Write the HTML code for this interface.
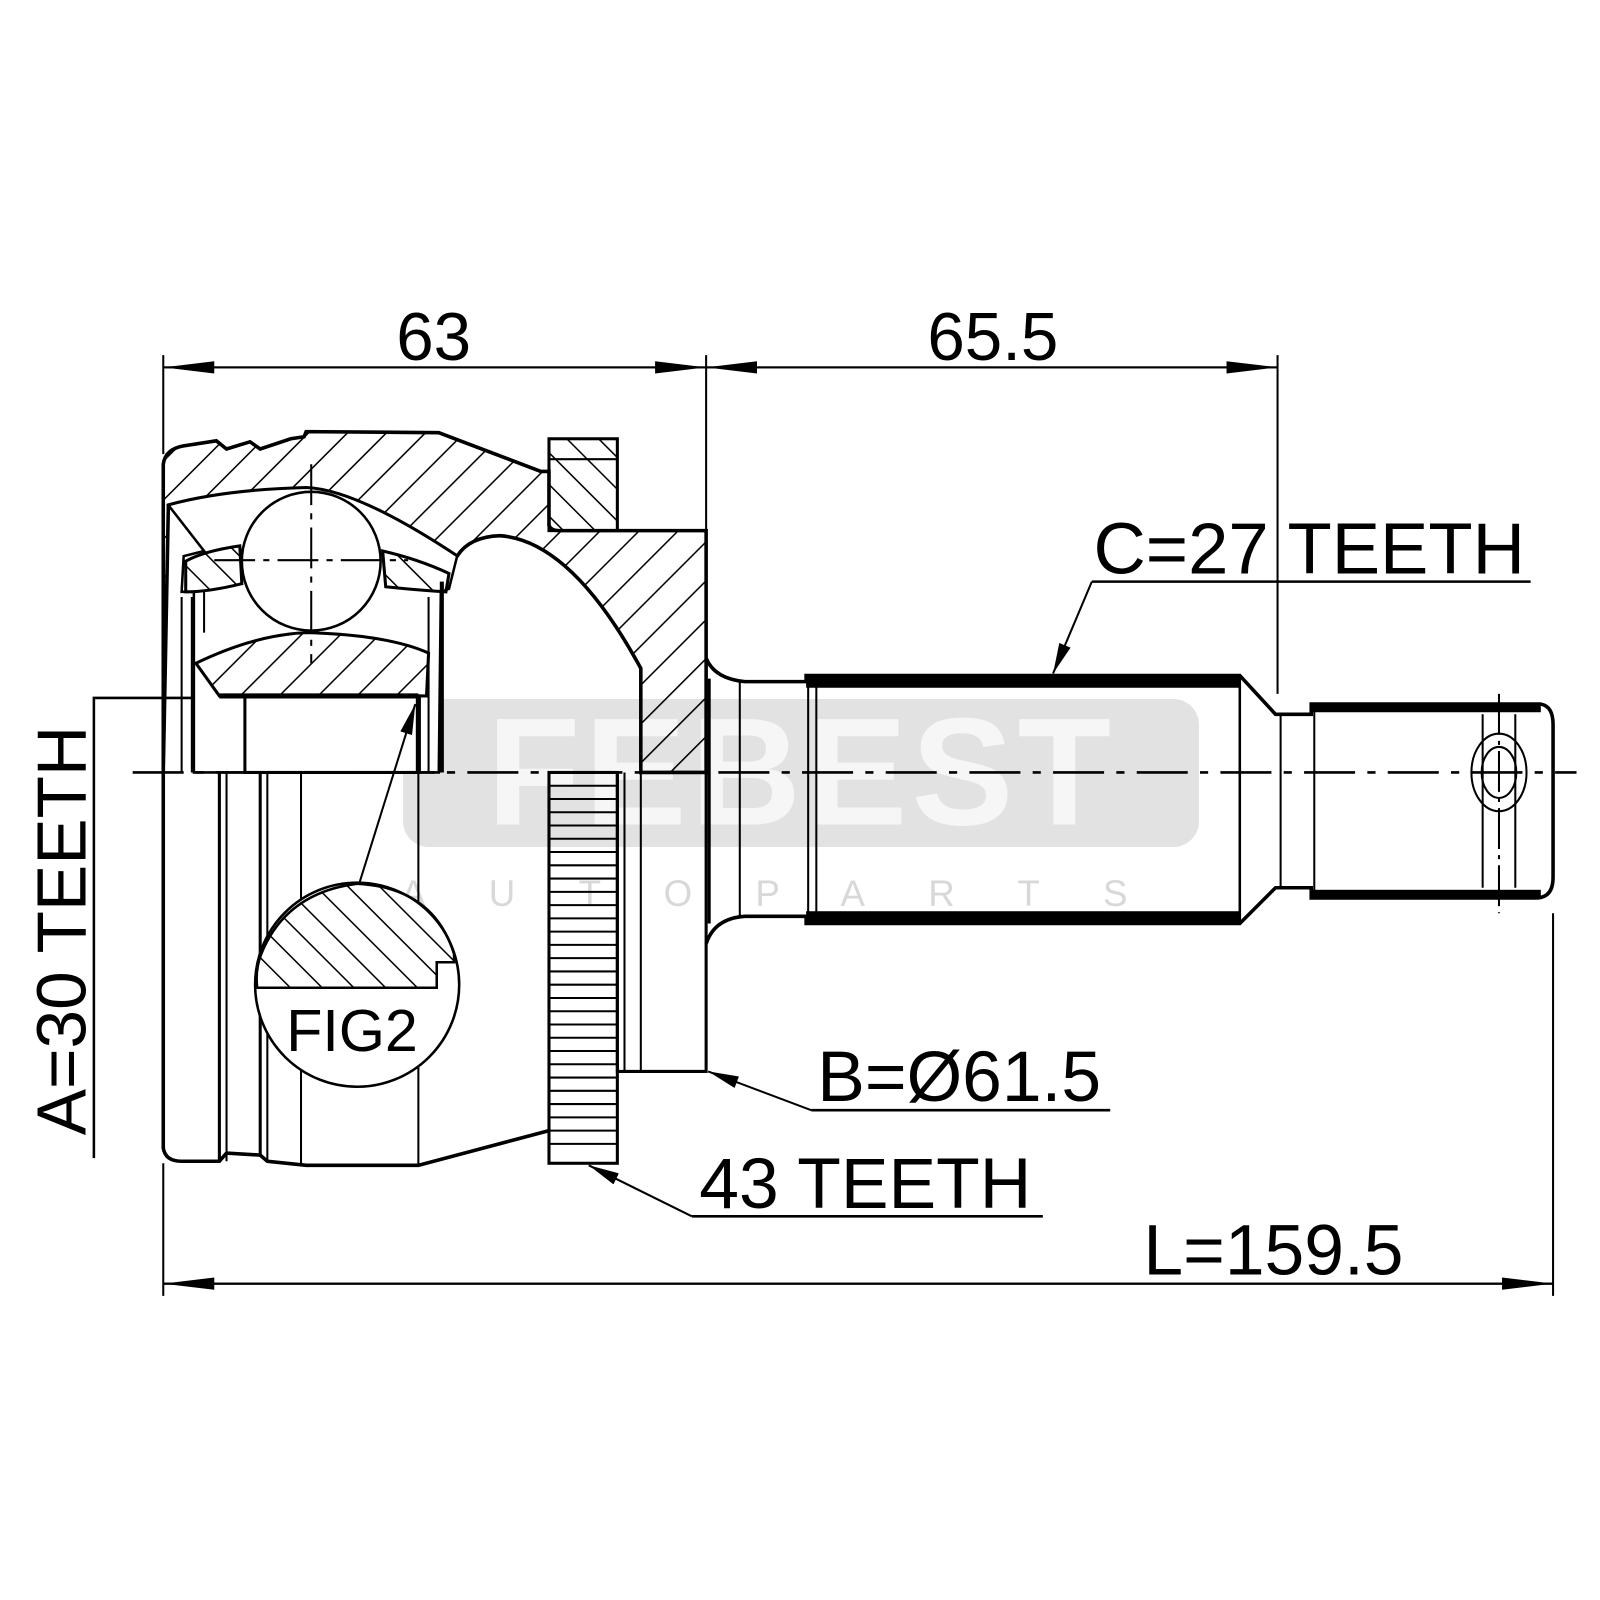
<!DOCTYPE html>
<html><head><meta charset="utf-8"><style>
html,body{margin:0;padding:0;background:#fff;}
svg{display:block;}
text{font-family:"Liberation Sans",Arial,sans-serif;fill:#000;}
</style></head><body>
<svg width="1600" height="1600" viewBox="0 0 1568 1568" xmlns="http://www.w3.org/2000/svg">
<defs>
<pattern id="h1" patternUnits="userSpaceOnUse" width="27" height="27" patternTransform="rotate(45)">
<line x1="0" y1="0" x2="0" y2="27" stroke="#000" stroke-width="3"/></pattern>
<pattern id="h2" patternUnits="userSpaceOnUse" width="22" height="22" patternTransform="rotate(-45)">
<line x1="0" y1="0" x2="0" y2="22" stroke="#000" stroke-width="3"/></pattern>
<marker id="ab" markerWidth="50" markerHeight="14" refX="50" refY="7" orient="auto" markerUnits="userSpaceOnUse" viewBox="0 0 50 14"><path d="M0,1 L50,7 L0,13 z" fill="#000"/></marker>
<marker id="as" markerWidth="30" markerHeight="12" refX="30" refY="6" orient="auto" markerUnits="userSpaceOnUse" viewBox="0 0 30 12"><path d="M0,0 L30,6 L0,12 z" fill="#000"/></marker>
</defs>

<rect x="395" y="685" width="780" height="145" rx="25" fill="#e2e2e2"/>
<text x="785" y="808" font-size="150" font-weight="bold" text-anchor="middle" style="fill:#f6f6f6" letter-spacing="4">FEBEST</text>
<text x="780" y="888" font-size="36" text-anchor="middle" style="fill:#d8d8d8" letter-spacing="62">AUTOPARTS</text>

<g stroke="#000" fill="none" stroke-width="3">
<line x1="160" y1="348" x2="160" y2="445" stroke-width="2"/>
<line x1="692" y1="348" x2="692" y2="520" stroke-width="2"/>
<line x1="1252" y1="348" x2="1252" y2="680" stroke-width="2"/>
<line x1="160" y1="360" x2="692" y2="360" stroke-width="2" marker-end="url(#ab)"/>
<line x1="692" y1="360" x2="160" y2="360" stroke-width="2" marker-end="url(#ab)"/>
<line x1="692" y1="360" x2="1252" y2="360" stroke-width="2" marker-end="url(#ab)"/>
<line x1="1252" y1="360" x2="692" y2="360" stroke-width="2" marker-end="url(#ab)"/>
<line x1="160" y1="1140" x2="160" y2="1270" stroke-width="2"/>
<line x1="1522" y1="895" x2="1522" y2="1270" stroke-width="2"/>
<line x1="160" y1="1258" x2="1522" y2="1258" stroke-width="2" marker-end="url(#ab)"/>
<line x1="1522" y1="1258" x2="160" y2="1258" stroke-width="2" marker-end="url(#ab)"/>

<polyline points="92,1135 92,684 240,684" stroke-width="2.5"/>
<line x1="1070" y1="570" x2="1500" y2="570" stroke-width="2.5"/>
<line x1="1070" y1="570" x2="1032" y2="660" stroke-width="2" marker-end="url(#as)"/>
<line x1="795" y1="1088" x2="1088" y2="1088" stroke-width="2.5"/>
<line x1="795" y1="1088" x2="694" y2="1050" stroke-width="2" marker-end="url(#as)"/>
<line x1="678" y1="1192" x2="1022" y2="1192" stroke-width="2.5"/>
<line x1="678" y1="1192" x2="577" y2="1142" stroke-width="2" marker-end="url(#as)"/>

<path d="M160,757 L160,455 Q162,440 180,437 L212,432 L222,440 L245,433 L255,440 L285,430 L298,428 L300,423 L430,424 L530,462 L538,462 L538,515 Q540,520 548,520 L692,520 L692,757 L628,757 L628,655 Q560,530 490,525 Q460,526 448,545 Q350,480 300,478 Q220,480 165,495 Z" fill="url(#h1)" stroke-width="3.5"/>
<rect x="538" y="430" width="67" height="90" fill="url(#h2)"/>
<line x1="538" y1="450" x2="605" y2="450" stroke-width="2"/>
<path d="M165,495 L200,540 L180,545 L178,580 L190,580 L190,757 L430,757 L432,580 L440,577 L448,545 Q350,480 300,478 Q220,480 165,495 Z" fill="#fff" stroke-width="2.5"/>
<path d="M182,550 Q200,540 235,535 L237,572 Q205,580 182,580 Z" fill="url(#h2)"/>
<path d="M375,540 Q410,548 440,562 L437,580 Q405,578 378,575 Z" fill="url(#h2)"/>
<path d="M192,650 Q250,622 300,620 Q380,622 420,640 L418,682 L215,682 Z" fill="url(#h1)"/>
<rect x="240" y="682" width="170" height="75" fill="#fff" stroke-width="3"/>
<line x1="410" y1="682" x2="410" y2="757" stroke-width="5"/>
<line x1="215" y1="682" x2="410" y2="682" stroke-width="5"/>
<circle cx="305" cy="550" r="68" fill="#fff" stroke-width="2.5"/>
<line x1="305" y1="455" x2="305" y2="650" stroke-width="2" stroke-dasharray="40,8,6,8"/>
<line x1="210" y1="549" x2="400" y2="549" stroke-width="2" stroke-dasharray="40,8,6,8"/>
<line x1="178" y1="585" x2="178" y2="757" stroke-width="2"/>
<line x1="188" y1="585" x2="188" y2="757" stroke-width="2"/>
<line x1="200" y1="580" x2="200" y2="620" stroke-width="2"/>
<line x1="420" y1="585" x2="420" y2="757" stroke-width="2"/>
<line x1="433" y1="570" x2="433" y2="757" stroke-width="4"/>

<path d="M160,757 L160,1125 Q162,1138 178,1138 L215,1138 L222,1130 L255,1132 L262,1138 L300,1142 L410,1142 L538,1108" stroke-width="3.5"/>
<line x1="215" y1="757" x2="215" y2="1138" stroke-width="3"/>
<line x1="222" y1="757" x2="222" y2="1138" stroke-width="2"/>
<line x1="255" y1="757" x2="255" y2="1132" stroke-width="3"/>
<line x1="262" y1="757" x2="262" y2="1138" stroke-width="2"/>
<line x1="295" y1="757" x2="295" y2="1142" stroke-width="2"/>
<line x1="410" y1="757" x2="410" y2="1142" stroke-width="2"/>
<rect x="538" y="757" width="67" height="383" stroke-width="3"/>
<g stroke-width="2">
<line x1="538" y1="770" x2="605" y2="770"/><line x1="538" y1="783" x2="605" y2="783"/><line x1="538" y1="796" x2="605" y2="796"/><line x1="538" y1="809" x2="605" y2="809"/><line x1="538" y1="822" x2="605" y2="822"/><line x1="538" y1="835" x2="605" y2="835"/><line x1="538" y1="848" x2="605" y2="848"/><line x1="538" y1="861" x2="605" y2="861"/><line x1="538" y1="874" x2="605" y2="874"/><line x1="538" y1="887" x2="605" y2="887"/><line x1="538" y1="900" x2="605" y2="900"/><line x1="538" y1="913" x2="605" y2="913"/><line x1="538" y1="926" x2="605" y2="926"/><line x1="538" y1="939" x2="605" y2="939"/><line x1="538" y1="952" x2="605" y2="952"/><line x1="538" y1="965" x2="605" y2="965"/><line x1="538" y1="978" x2="605" y2="978"/><line x1="538" y1="991" x2="605" y2="991"/><line x1="538" y1="1004" x2="605" y2="1004"/><line x1="538" y1="1017" x2="605" y2="1017"/><line x1="538" y1="1030" x2="605" y2="1030"/><line x1="538" y1="1043" x2="605" y2="1043"/><line x1="538" y1="1056" x2="605" y2="1056"/><line x1="538" y1="1069" x2="605" y2="1069"/><line x1="538" y1="1082" x2="605" y2="1082"/><line x1="538" y1="1095" x2="605" y2="1095"/><line x1="538" y1="1108" x2="605" y2="1108"/><line x1="538" y1="1121" x2="605" y2="1121"/>
</g>
<path d="M605,757 L605,1050 L692,1050 L692,757" stroke-width="3"/>
<line x1="612" y1="757" x2="612" y2="1050" stroke-width="2"/>
<line x1="628" y1="757" x2="628" y2="1050" stroke-width="2"/>

<circle cx="350" cy="965" r="100" fill="#fff" stroke-width="2.5"/>
<path d="M256,935 Q280,875 350,866 Q425,870 445,935 L445,943 L428,943 L428,968 L252,968 Q250,950 256,935 Z" fill="url(#h2)" stroke-width="2.5"/>
<line x1="352" y1="866" x2="407" y2="690" stroke-width="2" marker-end="url(#as)"/>

<path d="M692,645 Q700,665 730,668 L790,668 L790,662 L1215,662 L1250,700 L1285,700 L1285,690 L1510,690 Q1522,692 1522,710 L1522,860 Q1522,880 1505,880 L1285,880 L1285,870 L1250,870 L1215,905 L790,905 L790,898 L730,898 Q700,900 692,925" stroke-width="3.5"/>
<line x1="695" y1="665" x2="695" y2="905" stroke-width="3"/>
<line x1="725" y1="668" x2="725" y2="898" stroke-width="2"/>
<line x1="792" y1="668" x2="792" y2="898" stroke-width="2"/>
<line x1="800" y1="668" x2="800" y2="898" stroke-width="2"/>
<line x1="1215" y1="662" x2="1215" y2="905" stroke-width="2.5"/>
<line x1="1255" y1="700" x2="1255" y2="870" stroke-width="2"/>
<line x1="1288" y1="692" x2="1288" y2="878" stroke-width="2"/>
<rect x="790" y="662" width="425" height="12" fill="#000" stroke="none"/>
<rect x="790" y="893" width="425" height="12" fill="#000" stroke="none"/>
<g stroke="#fff" stroke-width="3">
<line x1="865" y1="678" x2="875" y2="678"/><line x1="885" y1="678" x2="895" y2="678"/><line x1="1000" y1="678" x2="1010" y2="678"/><line x1="1020" y1="678" x2="1030" y2="678"/><line x1="1135" y1="678" x2="1145" y2="678"/><line x1="1155" y1="678" x2="1165" y2="678"/>
<line x1="865" y1="889" x2="875" y2="889"/><line x1="885" y1="889" x2="895" y2="889"/><line x1="1000" y1="889" x2="1010" y2="889"/><line x1="1020" y1="889" x2="1030" y2="889"/><line x1="1135" y1="889" x2="1145" y2="889"/><line x1="1155" y1="889" x2="1165" y2="889"/>
</g>
<rect x="1285" y="690" width="225" height="8" fill="#000" stroke="none"/>
<rect x="1285" y="872" width="225" height="8" fill="#000" stroke="none"/>
<line x1="1453" y1="700" x2="1453" y2="870" stroke-width="2"/>
<line x1="1485" y1="700" x2="1485" y2="870" stroke-width="2"/>
<line x1="1469" y1="680" x2="1469" y2="895" stroke-width="2" stroke-dasharray="40,6,4,6"/>
<ellipse cx="1469" cy="757" rx="27" ry="38" stroke-width="2"/>
<ellipse cx="1469" cy="757" rx="17" ry="25" stroke-width="2"/>

<line x1="130" y1="757" x2="1545" y2="757" stroke-width="2.5" stroke-dasharray="50,12,8,12"/>
</g>

<text x="425" y="353" font-size="66" text-anchor="middle">63</text>
<text x="973" y="353" font-size="66" text-anchor="middle">65.5</text>
<text x="1283" y="562" font-size="71" text-anchor="middle">C=27 TEETH</text>
<text x="940" y="1079" font-size="70" text-anchor="middle">B=Ø61.5</text>
<text x="848" y="1184" font-size="70" text-anchor="middle">43 TEETH</text>
<text x="1248" y="1249" font-size="70" text-anchor="middle">L=159.5</text>
<text x="345" y="1030" font-size="58" text-anchor="middle">FIG2</text>
<text transform="translate(84,912) rotate(-90)" font-size="68" text-anchor="middle">A=30 TEETH</text>
</svg>
</body></html>
